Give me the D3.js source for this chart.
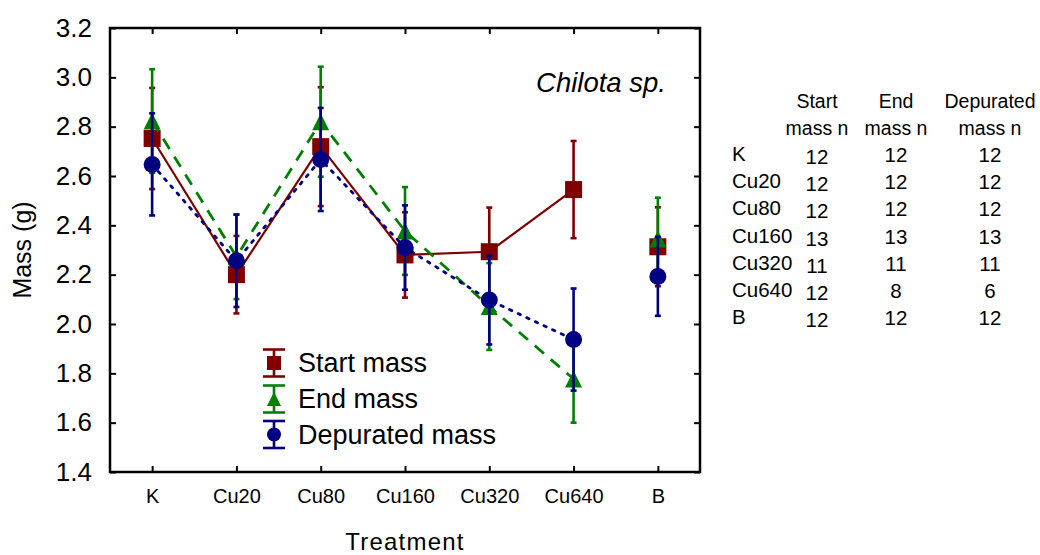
<!DOCTYPE html>
<html>
<head>
<meta charset="utf-8">
<script src="https://cdn.jsdelivr.net/npm/d3@7"></script>
<style>
  body { margin: 0; background: #fff; }
  svg text { font-family: Arial, 'Liberation Sans', sans-serif; fill: #000; }
</style>
</head>
<body>
<svg id="chart" width="1040" height="555"></svg>
<script>
// data
const treatments = ['K', 'Cu20', 'Cu80', 'Cu160', 'Cu320', 'Cu640', 'B'];
const yTicks = [1.4, 1.6, 1.8, 2.0, 2.2, 2.4, 2.6, 2.8, 3.0, 3.2];

const startMean = [2.752, 2.200, 2.719, 2.280, 2.293, 2.545, 2.313];
const startErr  = [0.205, 0.157, 0.241, 0.173, 0.179, 0.197, 0.160];
const endMean   = [2.823, 2.273, 2.820, 2.377, 2.071, 1.777, 2.345];
const endErr    = [0.210, 0.172, 0.223, 0.178, 0.176, 0.177, 0.167];
const depMean   = [2.647, 2.256, 2.667, 2.310, 2.097, 1.937, 2.193];
const depErr    = [0.207, 0.187, 0.209, 0.171, 0.180, 0.207, 0.160];

const startN = [12, 12, 12, 13, 11, 12, 12];
const endN   = [12, 12, 12, 13, 11, 8, 12];
const depN   = [12, 12, 12, 13, 11, 6, 12];

const series = [
  { name: 'Start mass', mean: startMean, err: startErr, color: '#800000', shape: 'square', dash: null },
  { name: 'End mass', mean: endMean, err: endErr, color: '#008000', shape: 'triangle', dash: '12 9' },
  { name: 'Depurated mass', mean: depMean, err: depErr, color: '#000080', shape: 'circle', dash: '2.5 7' }
];

const svg = d3.select('#chart');
const plotLeft = 110, plotRight = 700, plotTop = 28, plotBottom = 472;

const x = d3.scalePoint().domain(treatments).range([plotLeft, plotRight]).padding(0.5);
const y = d3.scaleLinear().domain([1.4, 3.2]).range([plotBottom, plotTop]);

// axes, ticks pointing inward on all four sides
function styleAxis(g) {
  g.select('.domain').remove();
  g.selectAll('.tick line').attr('stroke', '#000').attr('stroke-width', 2);
}

svg.append('g')
  .attr('transform', `translate(${plotLeft},0)`)
  .call(d3.axisLeft(y).tickValues(yTicks).tickFormat(d3.format('.1f')).tickSize(-6).tickPadding(18))
  .call(styleAxis)
  .selectAll('text').style('font-size', '26px');

svg.append('g')
  .attr('transform', `translate(${plotRight},0)`)
  .call(d3.axisRight(y).tickValues(yTicks).tickFormat('').tickSize(-6))
  .call(styleAxis);

svg.append('g')
  .attr('transform', `translate(0,${plotBottom})`)
  .call(d3.axisBottom(x).tickSize(-6).tickPadding(17))
  .call(styleAxis)
  .selectAll('text').style('font-size', '20px');

svg.append('g')
  .attr('transform', `translate(0,${plotTop})`)
  .call(d3.axisTop(x).tickFormat('').tickSize(-6))
  .call(styleAxis);

svg.append('rect')
  .attr('x', plotLeft).attr('y', plotTop)
  .attr('width', plotRight - plotLeft).attr('height', plotBottom - plotTop)
  .attr('fill', 'none').attr('stroke', '#000').attr('stroke-width', 2.5);

// axis titles
svg.append('text')
  .attr('transform', `translate(22,${(plotTop + plotBottom) / 2}) rotate(-90)`)
  .attr('text-anchor', 'middle').attr('dominant-baseline', 'central')
  .style('font-size', '25px')
  .text('Mass (g)');

svg.append('text')
  .attr('x', (plotLeft + plotRight) / 2).attr('y', 541)
  .attr('text-anchor', 'middle').attr('dominant-baseline', 'central')
  .style('font-size', '24px').style('letter-spacing', '1.2px')
  .text('Treatment');

svg.append('text')
  .attr('x', 666).attr('y', 82)
  .attr('text-anchor', 'end').attr('dominant-baseline', 'central')
  .style('font-size', '27.5px').style('font-style', 'italic')
  .text('Chilota sp.');

function drawMarker(g, shape, cx, cy, size, color) {
  const h = size / 2;
  if (shape === 'square') {
    g.append('rect').attr('x', cx - h).attr('y', cy - h)
      .attr('width', size).attr('height', size).attr('fill', color);
  } else if (shape === 'circle') {
    g.append('circle').attr('cx', cx).attr('cy', cy).attr('r', h).attr('fill', color);
  } else {
    g.append('path')
      .attr('d', `M${cx},${cy - h}L${cx + h},${cy + h}L${cx - h},${cy + h}Z`)
      .attr('fill', color);
  }
}

// series: line (without B), error bars, markers
const lineIdx = d3.range(treatments.length - 1);
series.forEach(s => {
  const g = svg.append('g');
  const line = d3.line()
    .x(i => x(treatments[i]))
    .y(i => y(s.mean[i]));
  g.append('path')
    .attr('d', line(lineIdx))
    .attr('fill', 'none')
    .attr('stroke', s.color)
    .attr('stroke-width', s.dash ? 2.8 : 2.2)
    .attr('stroke-dasharray', s.dash)
    .attr('stroke-linecap', s.dash === '2.5 7' ? 'round' : 'butt');

  treatments.forEach((t, i) => {
    const cx = x(t);
    const y0 = y(s.mean[i] - s.err[i]);
    const y1 = y(s.mean[i] + s.err[i]);
    g.append('line').attr('x1', cx).attr('x2', cx).attr('y1', y0).attr('y2', y1)
      .attr('stroke', s.color).attr('stroke-width', 2.6);
    [y0, y1].forEach(yy => {
      g.append('line').attr('x1', cx - 3).attr('x2', cx + 3).attr('y1', yy).attr('y2', yy)
        .attr('stroke', s.color).attr('stroke-width', 2.6);
    });
    drawMarker(g, s.shape, cx, y(s.mean[i]), 17, s.color);
  });
});

// legend
const legendX = 274;
const legendY = [363, 399, 434.5];
series.forEach((s, k) => {
  const g = svg.append('g');
  const cy = legendY[k];
  g.append('line').attr('x1', legendX).attr('x2', legendX).attr('y1', cy - 13.5).attr('y2', cy + 13.5)
    .attr('stroke', s.color).attr('stroke-width', 2.6);
  [cy - 13.5, cy + 13.5].forEach(yy => {
    g.append('line').attr('x1', legendX - 11).attr('x2', legendX + 11).attr('y1', yy).attr('y2', yy)
      .attr('stroke', s.color).attr('stroke-width', 2.6);
  });
  drawMarker(g, s.shape, legendX, cy, 14, s.color);
  g.append('text')
    .attr('x', 298).attr('y', cy)
    .attr('dominant-baseline', 'central')
    .style('font-size', '27px')
    .text(s.name);
});

// table of n values
const colX = [817, 896, 990];
const head1 = ['Start', 'End', 'Depurated'];
const head2 = ['mass n', 'mass n', 'mass n'];
const table = svg.append('g').style('font-size', '19.5px');
head1.forEach((h, j) => {
  table.append('text').attr('x', colX[j]).attr('y', 101)
    .attr('text-anchor', 'middle').attr('dominant-baseline', 'central').text(h);
  table.append('text').attr('x', colX[j]).attr('y', 128)
    .attr('text-anchor', 'middle').attr('dominant-baseline', 'central').text(head2[j]);
});
const nCols = [startN, endN, depN];
treatments.forEach((t, i) => {
  const ry = 153.5 + i * 27.2;
  table.append('text').attr('x', 732).attr('y', ry)
    .attr('dominant-baseline', 'central').style('font-size', '20.5px').text(t);
  nCols.forEach((col, j) => {
    table.append('text').attr('x', colX[j]).attr('y', ry + (j === 0 ? 3 : 1))
      .attr('text-anchor', 'middle').attr('dominant-baseline', 'central')
      .style('font-size', '20.5px').text(col[i]);
  });
});
</script>
</body>
</html>
